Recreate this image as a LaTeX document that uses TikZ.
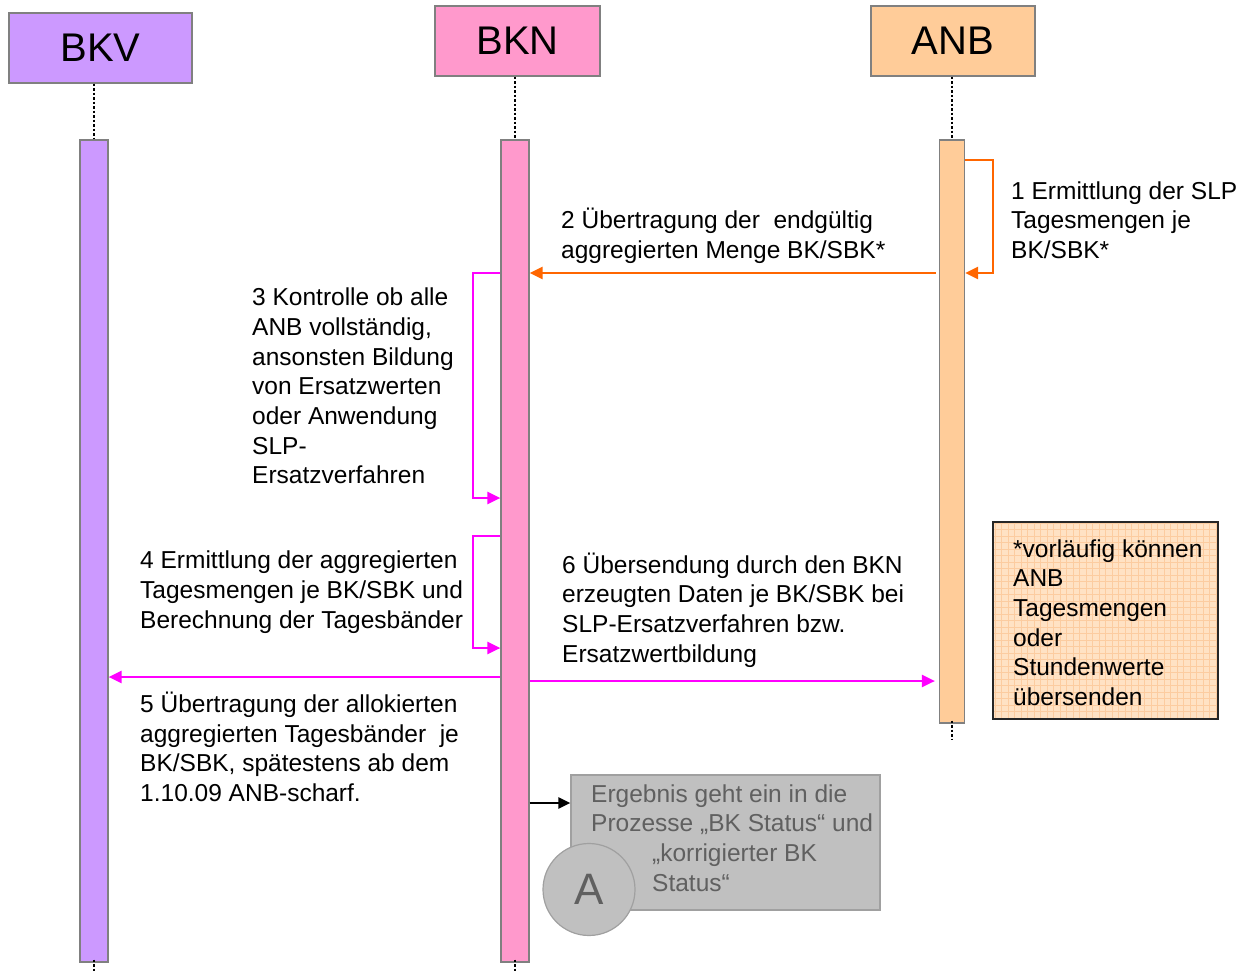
\documentclass[tikz,border=0pt]{standalone}
\usepackage{fontspec}
\setmainfont{Liberation Sans}
\usetikzlibrary{arrows.meta}
\definecolor{bkvcol}{RGB}{204,153,255}
\definecolor{bkncol}{RGB}{255,153,204}
\definecolor{anbcol}{RGB}{255,204,153}
\definecolor{orangeln}{RGB}{255,102,0}
\definecolor{magentaln}{RGB}{255,0,255}
\definecolor{greybox}{RGB}{192,192,192}
\definecolor{greyedge}{RGB}{160,160,160}
\definecolor{greytext}{RGB}{96,96,96}
\definecolor{edgecol}{RGB}{128,128,128}
\definecolor{notefill}{RGB}{255,226,196}
\definecolor{notegrid}{RGB}{252,204,160}
\begin{document}
\begin{tikzpicture}[x=1pt,y=-1pt,
  head/.style={draw=edgecol, line width=1.2pt, inner sep=0pt,
    font=\fontsize{40}{40}\selectfont},
  actbar/.style={draw=edgecol, line width=1.2pt, inner sep=0pt, minimum width=28pt},
  lifeline/.style={line width=2.5pt, dash pattern=on 2.5pt off 2pt},
  lbl/.style={align=left, inner sep=0pt, anchor=west,
    font=\fontsize{24.5}{29.7}\selectfont},
  msg/.style={line width=2.3pt, -{Triangle[length=13pt,width=12pt]}}]

\useasboundingbox (0,0) rectangle (1253,971);

% participants
\node[head, fill=bkvcol, minimum width=183pt, minimum height=70pt] (bkv) at (100.5,48) {BKV};
\node[head, fill=bkncol, minimum width=165pt, minimum height=70pt] (bkn) at (517.5,41) {BKN};
\node[head, fill=anbcol, minimum width=164pt, minimum height=70pt] (anb) at (953,41) {ANB};

% activation bars
\node[actbar, fill=bkvcol, minimum height=822pt] (bkvbar) at (94,551) {};
\node[actbar, fill=bkncol, minimum height=822pt] (bknbar) at (515,551) {};
\node[actbar, fill=anbcol, minimum width=25pt, minimum height=583pt] (anbbar) at (952,431.5) {};

% lifelines
\draw[lifeline] (bkv.south -| bkvbar.north) -- (bkvbar.north);
\draw[lifeline] (bkn.south -| bknbar.north) -- (bknbar.north);
\draw[lifeline] (anb.south -| anbbar.north) -- (anbbar.north);
\coordinate (bkvend) at (94,971);
\coordinate (bknend) at (515,971);
\coordinate (anbend) at (952,740);
\draw[lifeline] ([yshift=3pt]bkvbar.south) -- (bkvend);
\draw[lifeline] ([yshift=3pt]bknbar.south) -- (bknend);
\draw[lifeline] ([yshift=3pt]anbbar.south) -- (anbend);

% messages
\draw[msg, orangeln] (anbbar.east |- 0,160) -- (993,160) -- (993,273) -- (anbbar.east |- 0,273);
\draw[msg, orangeln, shorten <=3pt] (anbbar.west |- 0,273) -- (bknbar.east |- 0,273);
\draw[msg, magentaln] (bknbar.west |- 0,273) -- (473,273) -- (473,498) -- (bknbar.west |- 0,498);
\draw[msg, magentaln] (bknbar.west |- 0,536) -- (473,536) -- (473,648) -- (bknbar.west |- 0,648);
\draw[msg, magentaln] (bknbar.west |- 0,677) -- (bkvbar.east |- 0,677);
\draw[msg, magentaln, shorten >=4pt] (bknbar.east |- 0,681) -- (anbbar.west |- 0,681);

% labels
\node[lbl] (l1) at (1011,220) {1 Ermittlung der SLP\\Tagesmengen je\\BK/SBK*};
\node[lbl] (l2) at (561,235.5) {2 Übertragung der \ endgültig\\aggregierten Menge BK/SBK*};
\node[lbl] (l3) at (252,386) {3 Kontrolle ob alle\\ANB vollständig,\\ansonsten Bildung\\von Ersatzwerten\\oder Anwendung\\SLP-\\Ersatzverfahren};
\node[lbl] (l4) at (140,592) {4 Ermittlung der aggregierten\\Tagesmengen je BK/SBK und\\Berechnung der Tagesbänder};
\node[lbl] (l5) at (140,747) {5 Übertragung der allokierten\\aggregierten Tagesbänder \ je\\BK/SBK, spätestens ab dem\\1.10.09 ANB-scharf.};
\node[lbl] (l6) at (562,610) {6 Übersendung durch den BKN\\erzeugten Daten je BK/SBK bei\\SLP-Ersatzverfahren bzw.\\Ersatzwertbildung};

% note box
\node[draw=black!85, line width=1.6pt, fill=notefill, minimum width=225pt, minimum height=197pt,
  inner sep=0pt,
  path picture={\draw[notegrid, line width=0.4pt]
    (path picture bounding box.south west) grid[step=6.5pt] (path picture bounding box.north east);}]
  (note) at (1105.5,620.5) {};
\node[lbl] (notetext) at (1013,622.5) {*vorläufig können\\ANB\\Tagesmengen\\oder\\Stundenwerte\\übersenden};

% result box with connector A
\node[draw=greyedge, line width=1.2pt, fill=greybox, minimum width=309pt, minimum height=135pt,
  inner sep=0pt] (gbox) at (725.5,842.5) {};
\node[lbl, text=greytext] (gtext) at (591,838)
  {Ergebnis geht ein in die\\Prozesse „BK Status“ und\\\hspace*{61pt}„korrigierter BK\\\hspace*{61pt}Status“};
\node[circle, draw=greyedge, line width=1.2pt, fill=greybox, minimum size=92pt, inner sep=0pt,
  text=greytext, font=\fontsize{44}{44}\selectfont] (conA) at (589,889.5) {A};
\draw[line width=2.3pt, -{Triangle[length=12pt,width=11pt]}] (bknbar.east |- 0,803) -- (gbox.west |- 0,803);

\end{tikzpicture}
\end{document}
